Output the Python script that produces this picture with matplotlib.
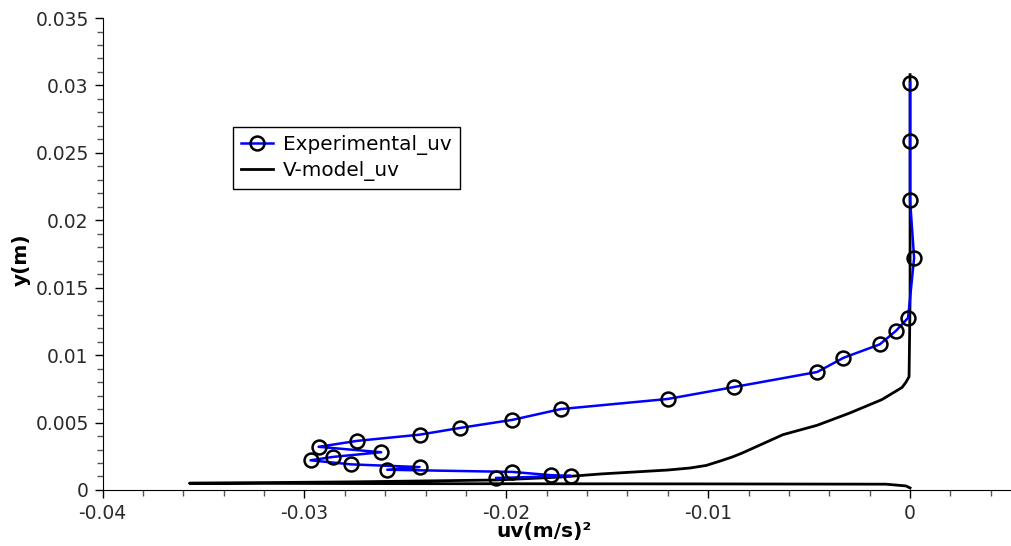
import matplotlib.pyplot as plt
from matplotlib.ticker import MultipleLocator

# experimental points (uv, y)
exp_uv = [0.0, 0.0, 0.0, 0.0002, -0.0001, -0.0007, -0.0015, -0.0033, -0.0046,
          -0.0087, -0.0120, -0.0173, -0.0197, -0.0223, -0.0243, -0.0274,
          -0.0293, -0.0262, -0.0286, -0.0297, -0.0277, -0.0243, -0.0259,
          -0.0197, -0.0178, -0.0168, -0.0205]
exp_y = [0.0302, 0.0259, 0.0215, 0.0172, 0.01276, 0.0118, 0.0108, 0.0098,
         0.00875, 0.00764, 0.00675, 0.0060, 0.0052, 0.0046, 0.0041, 0.00364,
         0.0032, 0.0028, 0.00245, 0.0022, 0.0019, 0.0017, 0.0015, 0.00134,
         0.0011, 0.00104, 0.00089]

# V-model curve
mod_uv = [0.0, -0.0002, -0.0012, -0.0100, -0.0250, -0.0357, -0.0277, -0.0205,
          -0.0173, -0.0153, -0.0120, -0.0109, -0.0101, -0.0094, -0.0088,
          -0.0083, -0.0063, -0.0046, -0.0030, -0.0014, -0.0004, -0.0002,
          -0.00005, 0.0, 0.0]
mod_y = [0.00015, 0.0003, 0.00043, 0.00045, 0.00047, 0.0005, 0.0006, 0.00074,
         0.00096, 0.00119, 0.00148, 0.00163, 0.00182, 0.00215, 0.00245,
         0.00275, 0.0041, 0.0048, 0.0057, 0.0067, 0.0076, 0.0080,
         0.0084, 0.0141, 0.0308]

xticks = [-0.04, -0.03, -0.02, -0.01, 0]
xticklabels = ['-0.04', '-0.03', '-0.02', '-0.01', '0']
yticks = [0, 0.005, 0.01, 0.015, 0.02, 0.025, 0.03, 0.035]
yticklabels = ['0', '0.005', '0.01', '0.015', '0.02', '0.025', '0.03', '0.035']

fig = plt.figure(figsize=(10.11, 5.46), dpi=100)
ax = fig.add_axes([0.1015, 0.1026, 0.8985, 0.8644])

ax.plot(exp_uv, exp_y, color='blue', lw=1.8, marker='o', ms=10,
        mfc='none', mec='black', mew=1.8, label='Experimental_uv', zorder=3)
ax.plot(mod_uv, mod_y, color='black', lw=2, label='V-model_uv', zorder=2)

ax.set_xlim(-0.04, 0.005)
ax.set_ylim(0, 0.035)
ax.xaxis.set_minor_locator(MultipleLocator(0.002))
ax.yaxis.set_minor_locator(MultipleLocator(0.001))
ax.set_xticks(xticks)
ax.set_xticklabels(xticklabels)
ax.set_yticks(yticks)
ax.set_yticklabels(yticklabels)

ax.spines['top'].set_visible(False)
ax.spines['right'].set_visible(False)
ax.tick_params(which='major', direction='out', length=6, width=1, pad=4,
               labelsize=13.5, labelcolor='#2a2a2a')
ax.tick_params(which='minor', direction='out', length=4, width=1, color='#555555')

ax.set_xlabel('uv(m/s)²', fontsize=14.5, fontweight='bold')
ax.set_ylabel('y(m)', fontsize=14.5, fontweight='bold')
ax.xaxis.set_label_coords(0.486, -0.068)
ax.yaxis.set_label_coords(-0.079, 0.489)

leg = ax.legend(loc='upper left', bbox_to_anchor=(233 / 1011, 1 - 127 / 546),
                bbox_transform=fig.transFigure, borderaxespad=0, fontsize=14.4,
                frameon=True, fancybox=False, handlelength=1.6,
                handletextpad=0.5, borderpad=0.4, labelspacing=0.3)
leg.get_frame().set_edgecolor('black')
leg.get_frame().set_linewidth(1)
leg.get_frame().set_alpha(1)

fig.savefig('out.png', dpi=100)
